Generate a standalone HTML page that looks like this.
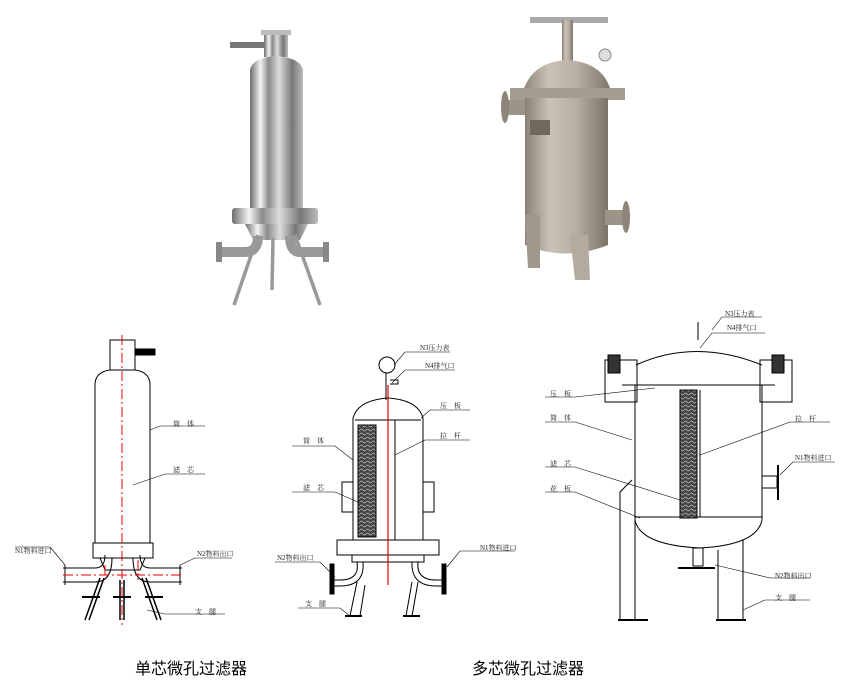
<!DOCTYPE html>
<html><head><meta charset="utf-8"><style>
body{margin:0;background:#fff}
svg{display:block}
text{font-family:"Liberation Serif","Noto Serif CJK SC",serif;font-size:7px;fill:#222}
.cap{font-family:"Liberation Sans","Noto Sans CJK SC",sans-serif;font-size:16px;fill:#000}
</style></head><body>
<svg width="845" height="700" viewBox="0 0 845 700" xmlns="http://www.w3.org/2000/svg">
<defs>
<linearGradient id="st" x1="0" x2="1"><stop offset="0" stop-color="#6d6d6d"/><stop offset=".2" stop-color="#f4f4f4"/><stop offset=".35" stop-color="#8a8a8a"/><stop offset=".55" stop-color="#dcdcdc"/><stop offset=".8" stop-color="#777"/><stop offset="1" stop-color="#bdbdbd"/></linearGradient>
<linearGradient id="br" x1="0" x2="1"><stop offset="0" stop-color="#8a8275"/><stop offset=".3" stop-color="#c9c2b6"/><stop offset=".6" stop-color="#b8b0a4"/><stop offset="1" stop-color="#7c7467"/></linearGradient>
<pattern id="hat" width="6" height="4" patternUnits="userSpaceOnUse"><rect width="6" height="4" fill="#444"/><path d="M0 2 Q1.5 0 3 2 T6 2" stroke="#bbb" stroke-width=".7" fill="none"/></pattern>
</defs>
<!-- Photo 1 -->
<g>
<rect x="264" y="32" width="24" height="25" fill="url(#st)"/>
<rect x="261" y="30" width="30" height="5" fill="#bbb"/>
<rect x="230" y="42" width="34" height="6" fill="#777"/>
<path d="M250 70 Q252 58 276 56 Q301 58 303 70 V210 H250 Z" fill="url(#st)"/>
<rect x="232" y="208" width="86" height="16" rx="3" fill="url(#st)"/>
<path d="M245 224 H308 L300 240 H253 Z" fill="url(#st)"/>
<path d="M218 252 H245 Q258 252 258 236" stroke="#999" stroke-width="10" fill="none"/>
<path d="M325 252 H300 Q290 252 290 236" stroke="#999" stroke-width="10" fill="none"/>
<rect x="216" y="242" width="6" height="20" fill="#888"/><rect x="323" y="242" width="6" height="20" fill="#888"/>
<path d="M258 235 L234 305 M295 235 L320 305 M273 238 L272 290" stroke="#999" stroke-width="3.5"/>
</g>
<!-- Photo 2 -->
<g>
<rect x="530" y="17" width="78" height="6" fill="#aaa"/>
<rect x="562" y="20" width="11" height="50" fill="url(#br)"/>
<circle cx="605" cy="55" r="6" fill="#ddd" stroke="#888"/>
<path d="M522 95 Q530 62 567 60 Q605 62 612 95 Z" fill="url(#br)"/>
<rect x="510" y="88" width="115" height="12" fill="#a59d90"/>
<path d="M525 98 H608 V245 Q566 262 525 245 Z" fill="url(#br)"/>
<rect x="505" y="100" width="20" height="15" fill="#9c9487"/><ellipse cx="505" cy="107" rx="4" ry="16" fill="#8d8578"/>
<rect x="530" y="120" width="20" height="15" fill="#6f685d"/>
<rect x="605" y="210" width="20" height="15" fill="#9c9487"/><ellipse cx="626" cy="217" rx="4" ry="16" fill="#8d8578"/>
<path d="M525 215 L540 215 L540 268 L528 268 Z" fill="#a0988a"/>
<path d="M570 235 L588 235 L590 280 L575 280 Z" fill="#b3ab9e"/>
</g>
<g stroke="#000" fill="none" stroke-width="1">
<!-- Drawing 1 -->
<rect x="110" y="340" width="25" height="30"/>
<path d="M110 370 Q95 372 95 385 V543 H150 V385 Q150 372 135 370"/>
<rect x="93" y="543" width="60" height="15"/>
<path d="M100 558 L105 570 H140 L145 558"/>
<path d="M63 568 H95 Q105 568 105 555 M63 582 H95 Q112 582 112 558"/>
<path d="M182 568 H150 Q140 568 140 555 M182 582 H150 Q133 582 133 558"/>
<path d="M65 565 V585 M180 565 V585"/>
<path d="M100 578 L85 620 M104 578 L89 620 M142 578 L157 620 M146 578 L161 620 M120 580 V620 M124 580 V620" stroke-width="1.5"/>
<path d="M82 597 H100 M113 597 H131 M145 597 H163" stroke-width="2"/>
<rect x="135" y="349" width="20" height="6" fill="#000"/>
<path d="M150 430 L160 426 H205 M133 485 L165 474 H205 M50 547 H15 M50 547 L65 565 M180 565 L195 558 H232 M147 610 L165 614 H225" stroke-width=".6"/>
<!-- Drawing 2 -->
<circle cx="387" cy="365" r="8"/>
<path d="M386 373 V400 M390 380 H398 V384 H390"/>
<path d="M353 418 Q358 400 388 398 Q418 400 423 418 V540 H353 Z"/>
<path d="M355 420 H421"/>
<rect x="358" y="425" width="18" height="112" fill="url(#hat)"/>
<path d="M395 420 V540"/>
<rect x="342" y="482" width="11" height="30"/><rect x="423" y="482" width="11" height="30"/>
<rect x="337" y="540" width="102" height="15"/>
<rect x="352" y="555" width="72" height="7"/>
<path d="M357 562 Q360 580 340 580 H333 M363 562 Q365 586 340 586 H333"/>
<path d="M418 562 Q416 580 436 580 H443 M412 562 Q411 586 436 586 H443"/>
<rect x="330" y="564" width="4" height="30" fill="#000"/><rect x="442" y="564" width="4" height="30" fill="#000"/>
<path d="M357 582 L350 616 M365 585 L360 616 M418 582 L412 616 M412 582 L406 616" />
<path d="M345 616 H362 M403 616 H420" stroke-width="2"/>
<path d="M394 365 L405 352 H450 M392 383 L405 370 H455 M421 418 L430 410 H470 M395 455 L425 440 H470 M353 460 L335 446 H292 M360 503 L335 492 H292 M335 577 L320 562 H275 M447 567 L460 551 H515 M350 616 L340 608 H298" stroke-width=".6"/>
<path d="M388 385 V585" stroke="#e00" stroke-width="1.2"/>
<!-- Drawing 3 -->
<path d="M636 365 Q695 338 762 365"/>
<path d="M698 340 V322"/>
<path d="M635 385 V520 M762 385 V520 M622 385 H775"/>
<path d="M635 520 Q640 545 700 548 Q757 545 762 520 M635 517 H762"/>
<rect x="680" y="390" width="17" height="128" fill="url(#hat)"/>
<path d="M700 390 V517"/>
<rect x="605" y="360" width="32" height="42"/><rect x="760" y="360" width="32" height="42"/>
<rect x="608" y="355" width="12" height="18" fill="#333"/><rect x="772" y="355" width="12" height="18" fill="#333"/>
<rect x="762" y="476" width="15" height="12"/><path d="M778 465 V500" stroke-width="2"/>
<path d="M632 480 L620 492 V620 M635 480 V620 M718 550 V620 M743 540 V620"/>
<path d="M618 620 H648 M716 620 H746" stroke-width="2"/>
<rect x="693" y="548" width="10" height="18"/><path d="M678 568 H715" stroke-width="2"/>
<path d="M712 330 L722 317 H762 M700 348 L712 333 H765 M545 397 H575 L655 388 M545 422 H575 L632 440 M545 467 H575 L680 500 M545 492 H575 L640 518 M780 475 L793 462 H835 M700 455 L790 422 H830 M715 565 L770 578 H810 M743 610 L765 600 H810" stroke-width=".6"/>
</g>
<path d="M122 335 V625 M63 575 H182 M105 565 V580 M138 560 V580" stroke="#e00" stroke-width="1" stroke-dasharray="10,3,2,3" fill="none"/>
<text x="173" y="426">筒　体</text><text x="173" y="472">滤　芯</text>
<text x="15" y="553">N1物料进口</text><text x="197" y="556">N2物料出口</text><text x="195" y="614">支　腿</text>
<text x="420" y="350">N3压力表</text><text x="425" y="368">N4排气口</text><text x="440" y="408">压　板</text><text x="440" y="438">拉　杆</text>
<text x="303" y="443">筒　体</text><text x="303" y="490">滤　芯</text><text x="277" y="560">N2物料出口</text><text x="480" y="550">N1物料进口</text><text x="305" y="606">支　腿</text>
<text x="725" y="316">N3压力表</text><text x="727" y="330">N4排气口</text><text x="550" y="396">压　板</text><text x="550" y="420">筒　体</text>
<text x="795" y="421">拉　杆</text><text x="795" y="460">N1物料进口</text><text x="550" y="466">滤　芯</text><text x="550" y="491">花　板</text>
<text x="775" y="578">N2物料出口</text><text x="775" y="600">支　腿</text>
<text class="cap" x="135" y="674">单芯微孔过滤器</text>
<text class="cap" x="472" y="674">多芯微孔过滤器</text>
</svg>
</body></html>
